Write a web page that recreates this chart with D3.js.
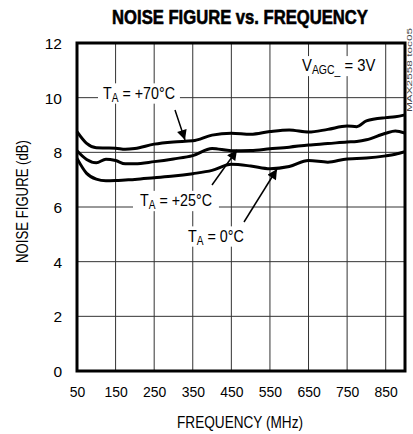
<!DOCTYPE html>
<html>
<head>
<meta charset="utf-8">
<script src="https://cdn.jsdelivr.net/npm/d3@7"></script>
<style>
  body { margin: 0; background: #fff; }
  svg text { font-family: 'Liberation Sans', Arial, sans-serif; }
</style>
</head>
<body>
<div id="chart"></div>
<script>
// values
const freq = [50, 75, 100, 125, 150, 175, 200, 250, 300, 350, 400, 450, 500, 550, 600, 650, 700, 750, 775, 800, 850, 875, 900];
const nf70 = [8.76, 8.33, 8.17, 8.16, 8.15, 8.11, 8.14, 8.30, 8.38, 8.42, 8.63, 8.70, 8.66, 8.76, 8.82, 8.74, 8.84, 8.96, 8.94, 9.15, 9.27, 9.30, 9.37];
const nf25 = [8.06, 7.74, 7.62, 7.75, 7.70, 7.58, 7.58, 7.66, 7.76, 7.88, 8.14, 8.06, 8.07, 8.13, 8.19, 8.27, 8.32, 8.38, 8.40, 8.46, 8.70, 8.78, 8.70];
const nf0 = [7.78, 7.23, 7.02, 6.96, 6.97, 6.99, 7.01, 7.07, 7.13, 7.22, 7.34, 7.56, 7.50, 7.40, 7.48, 7.70, 7.64, 7.76, 7.77, 7.79, 7.87, 7.93, 8.02];
const xTicks = [50, 150, 250, 350, 450, 550, 650, 750, 850];
const yTicks = [0, 2, 4, 6, 8, 10, 12];

const width = 413;
const height = 434;
const margin = { top: 43, right: 8, bottom: 63, left: 77 };
const w = width - margin.left - margin.right;
const h = height - margin.top - margin.bottom;

const svg = d3.select('#chart')
  .append('svg')
  .attr('width', width)
  .attr('height', height);

svg.append('defs')
  .append('marker')
  .attr('id', 'arrow')
  .attr('viewBox', '0 0 10 10')
  .attr('refX', 10)
  .attr('refY', 5)
  .attr('markerWidth', 14)
  .attr('markerHeight', 10)
  .attr('markerUnits', 'userSpaceOnUse')
  .attr('orient', 'auto')
  .append('path')
  .attr('d', 'M0,0 L10,5 L0,10 Z')
  .attr('fill', '#000');

const g = svg.append('g').attr('transform', `translate(${margin.left},${margin.top})`);

const x = d3.scaleLinear().domain([50, 900]).range([0, w]);
const y = d3.scaleLinear().domain([0, 12]).range([h, 0]);

// squeeze a text horizontally so it is as narrow as the condensed face in the original
const fit = (t, tx, ty, targetW, rot = 0) => {
  t.attr('x', 0).attr('y', 0);
  const bw = t.node().getBBox().width;
  t.attr('transform', `translate(${tx},${ty}) rotate(${rot}) scale(${targetW / bw},1)`);
  return t;
};

// grid
g.append('g')
  .selectAll('line')
  .data(xTicks.slice(1))
  .join('line')
  .attr('x1', (d) => x(d))
  .attr('x2', (d) => x(d))
  .attr('y1', 0)
  .attr('y2', h)
  .attr('stroke', '#333')
  .attr('stroke-width', 1);

g.append('g')
  .selectAll('line')
  .data(yTicks.slice(1, -1))
  .join('line')
  .attr('x1', 0)
  .attr('x2', w)
  .attr('y1', (d) => y(d))
  .attr('y2', (d) => y(d))
  .attr('stroke', '#333')
  .attr('stroke-width', 1);

// axes (labels only)
const xAxis = g.append('g')
  .attr('transform', `translate(0,${h})`)
  .call(d3.axisBottom(x).tickValues(xTicks).tickSize(0).tickPadding(15));
const yAxis = g.append('g')
  .call(d3.axisLeft(y).tickValues(yTicks).tickSize(0).tickPadding(15));
[xAxis, yAxis].forEach((a) => {
  a.select('.domain').remove();
  a.selectAll('text').attr('font-size', 15.5).attr('fill', '#000')
    .style('font-family', "'Liberation Sans', Arial, sans-serif");
});
xAxis.selectAll('text').attr('transform', 'scale(0.9,1)');
yAxis.selectAll('text').attr('dy', '0.36em');

// curves
const line = d3.line()
  .x((d) => x(d[0]))
  .y((d) => y(d[1]))
  .curve(d3.curveMonotoneX);

[nf70, nf25, nf0].forEach((vals) => {
  g.append('path')
    .datum(freq.map((f, i) => [f, vals[i]]))
    .attr('fill', 'none')
    .attr('stroke', '#000')
    .attr('stroke-width', 3)
    .attr('stroke-linejoin', 'round')
    .attr('d', line);
});

// frame
g.append('rect')
  .attr('width', w)
  .attr('height', h)
  .attr('fill', 'none')
  .attr('stroke', '#000')
  .attr('stroke-width', 3);

// label with subscript, on a white box
const subLabel = (tx, ty, targetW, main, sub, rest, pad) => {
  const t = svg.append('text')
    .attr('font-size', 17)
    .attr('fill', '#000');
  t.append('tspan').text(main);
  t.append('tspan').attr('font-size', 12).attr('dy', 3).text(sub);
  t.append('tspan').attr('dy', -3).text(rest);
  fit(t, tx, ty, targetW);
  const bb = t.node().getBBox();
  const sx = targetW / bb.width;
  svg.insert('rect', () => t.node())
    .attr('transform', t.attr('transform'))
    .attr('x', bb.x - pad / sx)
    .attr('y', bb.y)
    .attr('width', bb.width + (2 * pad) / sx)
    .attr('height', bb.height)
    .attr('fill', '#fff');
};
subLabel(103, 98.5, 72, 'T', 'A', ' = +70°C', 5);
subLabel(140, 206, 72, 'T', 'A', ' = +25°C', 7);
subLabel(188, 241.5, 56, 'T', 'A', ' = 0°C', 4);
subLabel(302, 71, 74, 'V', 'AGC_', ' = 3V', 5);

const arrows = [
  [175, 110, 185, 140],
  [212, 185, 237, 150],
  [244, 222, 277, 169],
];
svg.append('g')
  .selectAll('line')
  .data(arrows)
  .join('line')
  .attr('x1', (d) => d[0])
  .attr('y1', (d) => d[1])
  .attr('x2', (d) => d[2])
  .attr('y2', (d) => d[3])
  .attr('stroke', '#000')
  .attr('stroke-width', 1.5)
  .attr('marker-end', 'url(#arrow)');

// title
fit(svg.append('text')
  .attr('text-anchor', 'middle')
  .attr('font-size', 19.5)
  .attr('font-weight', 'bold')
  .attr('fill', '#000')
  .attr('stroke', '#000')
  .attr('stroke-width', 0.6)
  .text('NOISE FIGURE vs. FREQUENCY'), 240, 24, 256);

// axis titles
fit(svg.append('text')
  .attr('text-anchor', 'middle')
  .attr('font-size', 16)
  .attr('fill', '#000')
  .text('FREQUENCY (MHz)'), 240, 428, 126);

fit(svg.append('text')
  .attr('text-anchor', 'middle')
  .attr('font-size', 16)
  .attr('fill', '#000')
  .text('NOISE FIGURE (dB)'), 28, 201.5, 123, -90);

// part number tag
fit(svg.append('text')
  .attr('font-size', 8)
  .attr('fill', '#444')
  .text('MAX2558 toc05'), 411.5, 112, 85, -90);
</script>
</body>
</html>
